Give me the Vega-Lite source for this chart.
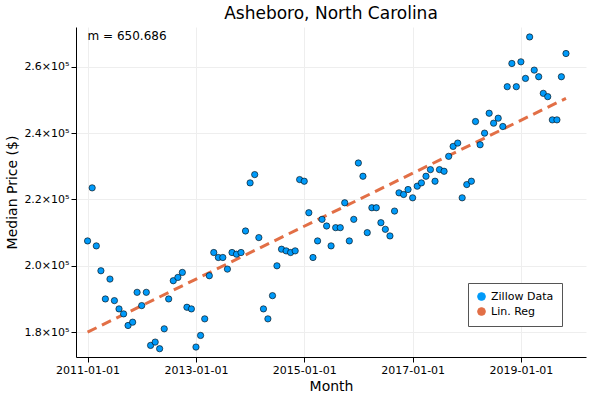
{
"$schema":"https://vega.github.io/schema/vega-lite/v6.json",
"width":510,"height":330,
"padding":{"left":5,"top":5,"right":10,"bottom":5},
"background":"white",
"config":{"font":"DejaVu Sans","view":{"stroke":null},"axis":{"gridColor":"#eeeeee","domainColor":"black","tickColor":"black","labelColor":"black","titleColor":"black","labelFontSize":11,"titleFontSize":14,"titleFontWeight":"normal"}},
"title":{"text":"Asheboro, North Carolina","fontSize":17,"fontWeight":"normal","font":"DejaVu Sans"},
"datasets":{
"z":[
{"d":"2011-01-01","v":207500},{"d":"2011-02-01","v":223500},{"d":"2011-03-01","v":206000},{"d":"2011-04-01","v":198500},{"d":"2011-05-01","v":190000},{"d":"2011-06-01","v":196000},{"d":"2011-07-01","v":189500},{"d":"2011-08-01","v":187000},{"d":"2011-09-01","v":185500},{"d":"2011-10-01","v":182000},{"d":"2011-11-01","v":183000},{"d":"2011-12-01","v":192000},
{"d":"2012-01-01","v":188000},{"d":"2012-02-01","v":192000},{"d":"2012-03-01","v":176000},{"d":"2012-04-01","v":177000},{"d":"2012-05-01","v":175000},{"d":"2012-06-01","v":181000},{"d":"2012-07-01","v":190000},{"d":"2012-08-01","v":195500},{"d":"2012-09-01","v":196500},{"d":"2012-10-01","v":198000},{"d":"2012-11-01","v":187500},{"d":"2012-12-01","v":187000},
{"d":"2013-01-01","v":175500},{"d":"2013-02-01","v":179000},{"d":"2013-03-01","v":184000},{"d":"2013-04-01","v":197000},{"d":"2013-05-01","v":204000},{"d":"2013-06-01","v":202500},{"d":"2013-07-01","v":202500},{"d":"2013-08-01","v":199000},{"d":"2013-09-01","v":204000},{"d":"2013-10-01","v":203500},{"d":"2013-11-01","v":204000},{"d":"2013-12-01","v":210500},
{"d":"2014-01-01","v":225000},{"d":"2014-02-01","v":227500},{"d":"2014-03-01","v":208500},{"d":"2014-04-01","v":187000},{"d":"2014-05-01","v":184000},{"d":"2014-06-01","v":191000},{"d":"2014-07-01","v":200000},{"d":"2014-08-01","v":205000},{"d":"2014-09-01","v":204500},{"d":"2014-10-01","v":204000},{"d":"2014-11-01","v":204500},{"d":"2014-12-01","v":226000},
{"d":"2015-01-01","v":225500},{"d":"2015-02-01","v":216000},{"d":"2015-03-01","v":202500},{"d":"2015-04-01","v":207500},{"d":"2015-05-01","v":214000},{"d":"2015-06-01","v":212000},{"d":"2015-07-01","v":206000},{"d":"2015-08-01","v":211500},{"d":"2015-09-01","v":211500},{"d":"2015-10-01","v":219000},{"d":"2015-11-01","v":207500},{"d":"2015-12-01","v":214000},
{"d":"2016-01-01","v":231000},{"d":"2016-02-01","v":227000},{"d":"2016-03-01","v":210000},{"d":"2016-04-01","v":217500},{"d":"2016-05-01","v":217500},{"d":"2016-06-01","v":213000},{"d":"2016-07-01","v":211000},{"d":"2016-08-01","v":209000},{"d":"2016-09-01","v":216500},{"d":"2016-10-01","v":222000},{"d":"2016-11-01","v":221500},{"d":"2016-12-01","v":223000},
{"d":"2017-01-01","v":220500},{"d":"2017-02-01","v":224000},{"d":"2017-03-01","v":225000},{"d":"2017-04-01","v":227000},{"d":"2017-05-01","v":229000},{"d":"2017-06-01","v":225500},{"d":"2017-07-01","v":229000},{"d":"2017-08-01","v":228500},{"d":"2017-09-01","v":233000},{"d":"2017-10-01","v":236000},{"d":"2017-11-01","v":237000},{"d":"2017-12-01","v":220500},
{"d":"2018-01-01","v":224500},{"d":"2018-02-01","v":225500},{"d":"2018-03-01","v":243500},{"d":"2018-04-01","v":236500},{"d":"2018-05-01","v":240000},{"d":"2018-06-01","v":246000},{"d":"2018-07-01","v":243000},{"d":"2018-08-01","v":244500},{"d":"2018-09-01","v":242000},{"d":"2018-10-01","v":254000},{"d":"2018-11-01","v":261000},{"d":"2018-12-01","v":254000},
{"d":"2019-01-01","v":261500},{"d":"2019-02-01","v":256500},{"d":"2019-03-01","v":269000},{"d":"2019-04-01","v":259000},{"d":"2019-05-01","v":257000},{"d":"2019-06-01","v":252000},{"d":"2019-07-01","v":251000},{"d":"2019-08-01","v":244000},{"d":"2019-09-01","v":244000},{"d":"2019-10-01","v":257000},{"d":"2019-11-01","v":264000}
],
"r":[{"d":"2011-01-01","v":180000},{"d":"2019-11-01","v":250500}],
"t":[{"d":"2011-01-01","v":272000,"s":"m = 650.686"}]
},
"encoding":{
"x":{"field":"d","type":"temporal","title":"Month","scale":{"domain":["2010-10-15","2020-03-15"]},"axis":{"values":["2011-01-01","2013-01-01","2015-01-01","2017-01-01","2019-01-01"],"format":"%Y-%m-%d","grid":true,"labelFlush":false}},
"y":{"field":"v","type":"quantitative","title":"Median Price ($)","scale":{"domain":[172500,272000],"nice":false,"zero":false},"axis":{"values":[180000,200000,220000,240000,260000],"labelExpr":"format(datum.value/100000,'.1f') + '×10⁵'","grid":true}}
},
"layer":[
{"data":{"name":"r"},"mark":{"type":"line","strokeDash":[10,6],"strokeWidth":3},"encoding":{"color":{"datum":"Lin. Reg"}}},
{"data":{"name":"z"},"mark":{"type":"point","filled":true,"size":40,"stroke":"black","strokeWidth":0.6,"opacity":1},"encoding":{"color":{"datum":"Zillow Data","scale":{"domain":["Zillow Data","Lin. Reg"],"range":["#009AF9","#E26F46"]},"legend":{"title":null,"orient":"none","legendX":392,"legendY":256,"strokeColor":"#555555","fillColor":"white","padding":8,"labelFontSize":11,"symbolStrokeWidth":1,"symbolSize":60}}}},
{"data":{"name":"t"},"mark":{"type":"text","align":"left","baseline":"top","fontSize":12,"dx":0,"dy":4},"encoding":{"text":{"field":"s"}}}
]
}
